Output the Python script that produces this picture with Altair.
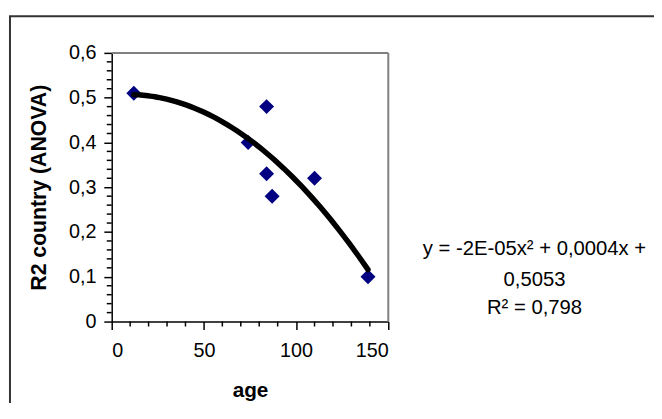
import altair as alt
import pandas as pd

# ---- data ----
age = [12, 74, 84, 84, 87, 110, 139]
r2 = [0.51, 0.40, 0.48, 0.33, 0.28, 0.32, 0.10]
x_major = [0, 50, 100, 150]
y_major = [0, 0.1, 0.2, 0.3, 0.4, 0.5, 0.6]
x_minor = [10, 20, 30, 40, 60, 70, 80, 90, 110, 120, 130, 140]
y_minor = [0.02, 0.04, 0.06, 0.08, 0.12, 0.14, 0.16, 0.18, 0.22, 0.24, 0.26, 0.28,
           0.32, 0.34, 0.36, 0.38, 0.42, 0.44, 0.46, 0.48, 0.52, 0.54, 0.56, 0.58]
eq_lines = ["y = -2E-05x² + 0,0004x +", "0,5053", "R² = 0,798"]
x_title = "age"
y_title = "R2 country (ANOVA)"

df = pd.DataFrame({"age": age, "r2": r2})
one = pd.DataFrame({"k": [0]})

W, H = 280, 272
FONT = "Liberation Sans"

xs = alt.Scale(domain=[0, 150], nice=False, zero=False)
ys = alt.Scale(domain=[0, 0.6], nice=False, zero=False)

x_axis = alt.Axis(values=x_major, title=x_title, tickSize=8, labelPadding=11,
                  grid=False,
                  labelFontSize=20, titleFontSize=21, titleFontWeight="bold",
                  titleY=76, titleBaseline="alphabetic", format="d")
y_axis = alt.Axis(values=y_major, title=y_title, tickSize=8, labelPadding=8,
                  grid=False,
                  labelFontSize=20, titleFontSize=21.5, titleFontWeight="bold",
                  titleX=-67, titleBaseline="alphabetic", titleAngle=270,
                  labelExpr="replace(format(datum.value, '~g'), '.', ',')")

frame = alt.Chart(one).mark_rect(fillOpacity=0, stroke="#333333", strokeWidth=2).encode(
    x=alt.value(-103), x2=alt.value(W + 400), y=alt.value(-37), y2=alt.value(H + 300))

top_rule = alt.Chart(one).mark_rule(color="#808080", strokeWidth=2).encode(
    x=alt.value(0), x2=alt.value(W), y=alt.value(0))
right_rule = alt.Chart(one).mark_rule(color="#808080", strokeWidth=2).encode(
    x=alt.value(W), y=alt.value(0), y2=alt.value(H))

xminor = alt.Chart(pd.DataFrame({"age": x_minor})).mark_rule(color="black", strokeWidth=1.5).encode(
    x=alt.X("age:Q", scale=xs, axis=x_axis), y=alt.value(H), y2=alt.value(H + 5))
yminor = alt.Chart(pd.DataFrame({"r2": y_minor})).mark_rule(color="black", strokeWidth=1.5).encode(
    y=alt.Y("r2:Q", scale=ys, axis=y_axis), x=alt.value(-5), x2=alt.value(0))

points = alt.Chart(df).mark_point(shape="diamond", filled=True, size=230,
                                  color="#000080", opacity=1).encode(
    x=alt.X("age:Q", scale=xs, axis=x_axis),
    y=alt.Y("r2:Q", scale=ys, axis=y_axis),
)

trend = alt.Chart(df).transform_regression(
    "age", "r2", method="poly", order=2
).mark_line(color="black", strokeWidth=5.5, strokeCap="round").encode(
    x=alt.X("age:Q", scale=xs, axis=x_axis), y=alt.Y("r2:Q", scale=ys, axis=y_axis))

eq_y = [205, 235.7, 264]
texts = [
    alt.Chart(one).mark_text(text=line, font=FONT, fontSize=20.5, color="black",
                             align="center", baseline="alphabetic").encode(
        x=alt.value(428), y=alt.value(yy))
    for line, yy in zip(eq_lines, eq_y)
]

chart = alt.layer(frame, points, trend, top_rule, right_rule, xminor, yminor, *texts).properties(
    width=W, height=H,
    background="white",
    padding={"left": 105, "top": 43, "right": 269, "bottom": 80},
    autosize=alt.AutoSizeParams(type="none"),
).configure_view(strokeWidth=0).configure_axis(
    grid=False, domainColor="black", domainWidth=1.5, tickColor="black", tickWidth=1.5,
    labelColor="black", titleColor="black", labelFont=FONT, titleFont=FONT,
)

chart.save("out.html", embed_options={"renderer": "svg", "actions": False})
